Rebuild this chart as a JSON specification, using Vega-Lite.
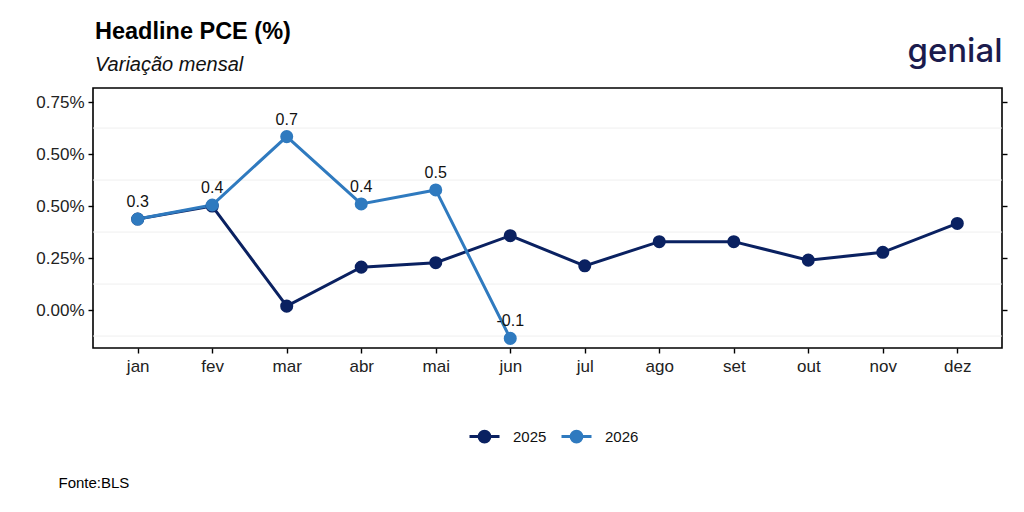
{
  "$schema": "https://vega.github.io/schema/vega-lite/v6.json",
  "autosize": "none",
  "padding": {"left": 93, "top": 88, "right": 22, "bottom": 164},
  "width": 909,
  "height": 260,
  "background": "white",
  "title": {
    "text": "Headline PCE (%)",
    "subtitle": "Variação mensal",
    "anchor": "start",
    "frame": "group",
    "dx": 2,
    "offset": -40,
    "font": "Liberation Sans",
    "fontSize": 23.5,
    "fontWeight": "bold",
    "color": "#000000",
    "subtitleFont": "Liberation Sans",
    "subtitleFontSize": 20,
    "subtitleFontStyle": "italic",
    "subtitleColor": "#111111",
    "subtitlePadding": 12
  },
  "datasets": {
    "pce": [
      {"mes": "jan", "ano": "2025", "valor": 0.35},
      {"mes": "fev", "ano": "2025", "valor": 0.40},
      {"mes": "mar", "ano": "2025", "valor": 0.015},
      {"mes": "abr", "ano": "2025", "valor": 0.165},
      {"mes": "mai", "ano": "2025", "valor": 0.182},
      {"mes": "jun", "ano": "2025", "valor": 0.286},
      {"mes": "jul", "ano": "2025", "valor": 0.17},
      {"mes": "ago", "ano": "2025", "valor": 0.263},
      {"mes": "set", "ano": "2025", "valor": 0.263},
      {"mes": "out", "ano": "2025", "valor": 0.192},
      {"mes": "nov", "ano": "2025", "valor": 0.222},
      {"mes": "dez", "ano": "2025", "valor": 0.333},
      {"mes": "jan", "ano": "2026", "valor": 0.35, "rotulo": "0.3"},
      {"mes": "fev", "ano": "2026", "valor": 0.404, "rotulo": "0.4"},
      {"mes": "mar", "ano": "2026", "valor": 0.667, "rotulo": "0.7"},
      {"mes": "abr", "ano": "2026", "valor": 0.408, "rotulo": "0.4"},
      {"mes": "mai", "ano": "2026", "valor": 0.462, "rotulo": "0.5"},
      {"mes": "jun", "ano": "2026", "valor": -0.109, "rotulo": "-0.1"}
    ],
    "grade": [
      {"g": -0.1}, {"g": 0.1}, {"g": 0.3}, {"g": 0.5}, {"g": 0.7}
    ]
  },
  "resolve": {"axis": {"x": "independent", "y": "independent"}},
  "layer": [
    {
      "data": {"name": "grade"},
      "mark": {"type": "rule", "color": "#efefef", "strokeWidth": 1},
      "encoding": {
        "y": {"field": "g", "type": "quantitative", "axis": null,
              "scale": {"domain": [-0.146, 0.854], "nice": false, "zero": false}}
      }
    },
    {
      "data": {"name": "pce"},
      "mark": {"type": "line", "strokeWidth": 3},
      "encoding": {
        "x": {
          "field": "mes", "type": "ordinal",
          "sort": ["jan","fev","mar","abr","mai","jun","jul","ago","set","out","nov","dez"],
          "scale": {"type": "point", "padding": 0.6},
          "axis": {
            "orient": "bottom",
            "title": "Fonte:BLS",
            "titleAnchor": "start",
            "titleAlign": "left",
            "titleBaseline": "alphabetic",
            "titleX": -35,
            "titleY": 139,
            "titleFontSize": 15,
            "titleFontWeight": "normal",
            "titleColor": "#000000",
            "labelAngle": 0,
            "labelFontSize": 17,
            "labelPadding": 5,
            "tickSize": 5
          }
        },
        "y": {
          "field": "valor", "type": "quantitative",
          "scale": {"domain": [-0.146, 0.854], "nice": false, "zero": false},
          "axis": {
            "orient": "left",
            "title": null,
            "values": [0, 0.2, 0.4, 0.6, 0.8],
            "labelExpr": "format(round(datum.value * 4) / 4, '.2f') + '%'",
            "labelFontSize": 17,
            "labelPadding": 4,
            "tickSize": 5
          }
        },
        "color": {
          "field": "ano", "type": "nominal",
          "scale": {"domain": ["2025", "2026"], "range": ["#0a2161", "#2f7abf"]},
          "legend": {
            "title": null,
            "orient": "none",
            "direction": "horizontal",
            "legendX": 375,
            "legendY": 332,
            "padding": 0,
            "symbolType": "M -1 0 L 1 0 M -0.36 0 A 0.36 0.36 0 1 0 0.36 0 A 0.36 0.36 0 1 0 -0.36 0",
            "symbolSize": 900,
            "symbolStrokeWidth": 3,
            "labelFontSize": 15,
            "labelColor": "#111111",
            "labelOffset": 12,
            "columnPadding": 8,
            "encode": {
              "symbols": {
                "update": {
                  "fill": {"scale": "color", "field": "value"},
                  "stroke": {"scale": "color", "field": "value"},
                  "opacity": {"value": 1}
                }
              }
            }
          }
        }
      }
    },
    {
      "data": {"name": "pce"},
      "mark": {"type": "point", "filled": true, "size": 170, "opacity": 1},
      "encoding": {
        "x": {
          "field": "mes", "type": "ordinal",
          "sort": ["jan","fev","mar","abr","mai","jun","jul","ago","set","out","nov","dez"],
          "axis": {
            "orient": "top",
            "labels": false,
            "ticks": false,
            "domain": false,
            "grid": false,
            "title": "genial",
            "titleFont": "Inter",
            "titleFontSize": 33,
            "titleFontWeight": 500,
            "titleColor": "#1b1b4d",
            "titleAnchor": "end",
            "titleAlign": "right",
            "titleBaseline": "alphabetic",
            "titleX": 909,
            "titleY": -27
          }
        },
        "y": {
          "field": "valor", "type": "quantitative",
          "axis": {
            "orient": "right",
            "title": null,
            "labels": false,
            "grid": false,
            "domain": false,
            "values": [0, 0.2, 0.4, 0.6, 0.8],
            "tickSize": 5
          }
        },
        "color": {"field": "ano", "type": "nominal"}
      }
    },
    {
      "data": {"name": "pce"},
      "transform": [{"filter": "datum.ano == '2026'"}],
      "mark": {"type": "text", "fontSize": 16, "dy": -12, "baseline": "alphabetic", "color": "#111111"},
      "encoding": {
        "x": {"field": "mes", "type": "ordinal",
              "sort": ["jan","fev","mar","abr","mai","jun","jul","ago","set","out","nov","dez"],
              "axis": null},
        "y": {"field": "valor", "type": "quantitative", "axis": null},
        "text": {"field": "rotulo"}
      }
    }
  ],
  "config": {
    "font": "Liberation Sans",
    "view": {"stroke": "#000000", "strokeWidth": 1.6},
    "axis": {
      "grid": false,
      "domain": false,
      "tickColor": "#000000",
      "tickWidth": 1.4,
      "labelColor": "#222222",
      "labelFont": "Liberation Sans"
    }
  }
}
